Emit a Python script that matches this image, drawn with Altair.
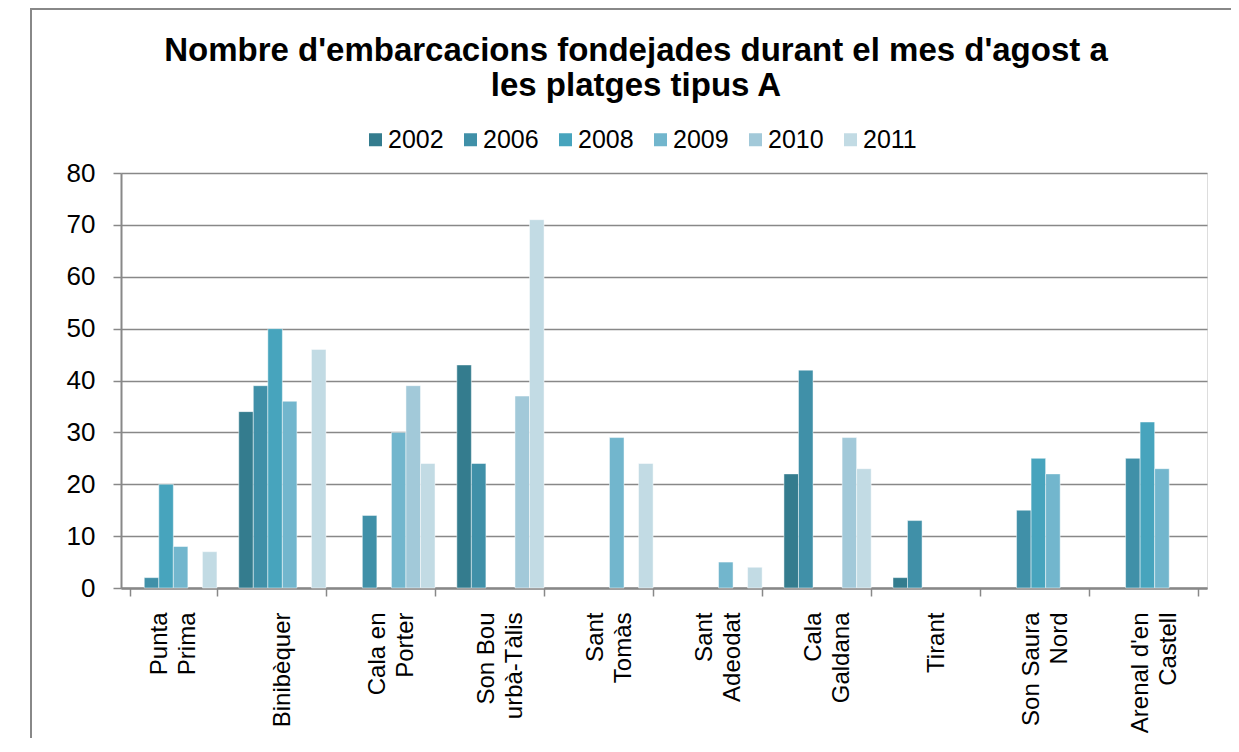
import altair as alt
import pandas as pd

categories = ["Punta\nPrima", "Binibèquer", "Cala en\nPorter", "Son Bou\nurbà-Tàlis",
              "Sant\nTomàs", "Sant\nAdeodat", "Cala\nGaldana", "Tirant",
              "Son Saura\nNord", "Arenal d'en\nCastell"]
years = ["2002", "2006", "2008", "2009", "2010", "2011"]
colors = ["#347C8E", "#4090A8", "#47A4BD", "#72B6CD", "#A2C9D9", "#C2DBE4"]

v2002 = [0, 34, 0, 43, 0, 0, 22, 2, 0, 0]
v2006 = [2, 39, 14, 24, 0, 0, 42, 13, 15, 25]
v2008 = [20, 50, 0, 0, 0, 0, 0, 0, 25, 32]
v2009 = [8, 36, 30, 0, 29, 5, 0, 0, 22, 23]
v2010 = [0, 0, 39, 37, 0, 0, 29, 0, 0, 0]
v2011 = [7, 46, 24, 71, 24, 4, 23, 0, 0, 0]

series = {"2002": v2002, "2006": v2006, "2008": v2008,
          "2009": v2009, "2010": v2010, "2011": v2011}
rows = []
for y in years:
    for c, v in zip(categories, series[y]):
        rows.append({"Platja": c, "Any": y, "Valor": v})
df = pd.DataFrame(rows)

FONT = "Liberation Sans"
GRAY = "#888888"

bars = alt.Chart(df).transform_filter("datum.Valor > 0").mark_bar(
    stroke="white", strokeWidth=0.8, strokeOpacity=0.6
).encode(
    x=alt.X("Platja:N", sort=categories,
            scale=alt.Scale(paddingInner=0.2, paddingOuter=0.08),
            axis=alt.Axis(title=None, labelAngle=-90, labelAlign="right",
                          labelBaseline="middle",
                          labelExpr="split(datum.label, '\\n')",
                          labelOffset={"condition": {"test": "indexof(datum.label, '\\n') >= 0",
                                                     "value": -14},
                                       "value": 0},
                          tickBand="extent", tickSize=8, tickColor=GRAY, tickWidth=1.5,
                          labelPadding=16, labelFontSize=24, labelLineHeight=28,
                          labelColor="black", labelFont=FONT,
                          domainColor=GRAY, domainWidth=2.5, grid=False)),
    xOffset=alt.XOffset("Any:N", sort=years),
    y=alt.Y("Valor:Q", scale=alt.Scale(domain=[0, 80]),
            axis=alt.Axis(title=None, values=list(range(0, 90, 10)),
                          tickSize=8, tickColor=GRAY, tickWidth=1.5,
                          labelPadding=18, labelFontSize=26, labelColor="black",
                          labelFont=FONT, domainColor=GRAY, domainWidth=2,
                          grid=True, gridColor=GRAY, gridWidth=1.6)),
    color=alt.Color("Any:N", scale=alt.Scale(domain=years, range=colors),
                    legend=alt.Legend(title=None, orient="none", legendX=242, legendY=-46,
                                      direction="horizontal", symbolType="square",
                                      symbolSize=169, symbolStrokeWidth=0,
                                      labelFontSize=25, labelFont=FONT, labelColor="black",
                                      labelOffset=0, columnPadding=14, padding=0)),
)

one = alt.Data(values=[{"f": 1}])
frame_top = alt.Chart(one).mark_rule(color=GRAY, strokeWidth=2).encode(
    x=alt.value(-90), x2=alt.value(1140), y=alt.value(-164))
frame_left = alt.Chart(one).mark_rule(color=GRAY, strokeWidth=2).encode(
    x=alt.value(-90), y=alt.value(-165), y2=alt.value(640))

chart = alt.layer(frame_top, frame_left, bars).properties(
    width=1086, height=415,
    autosize="none",
    padding={"left": 113, "top": 165, "right": 24, "bottom": 150},
    title=alt.TitleParams(
        text=["Nombre d'embarcacions fondejades durant el mes d'agost a",
              "les platges tipus A"],
        fontSize=33, fontWeight="bold", font=FONT, color="black",
        anchor="middle", dx=-28, lineHeight=35, offset=-96),
).configure_view(stroke=None).configure(font=FONT, background="white")

chart.save("out.html", embed_options={"renderer": "svg", "actions": False})
